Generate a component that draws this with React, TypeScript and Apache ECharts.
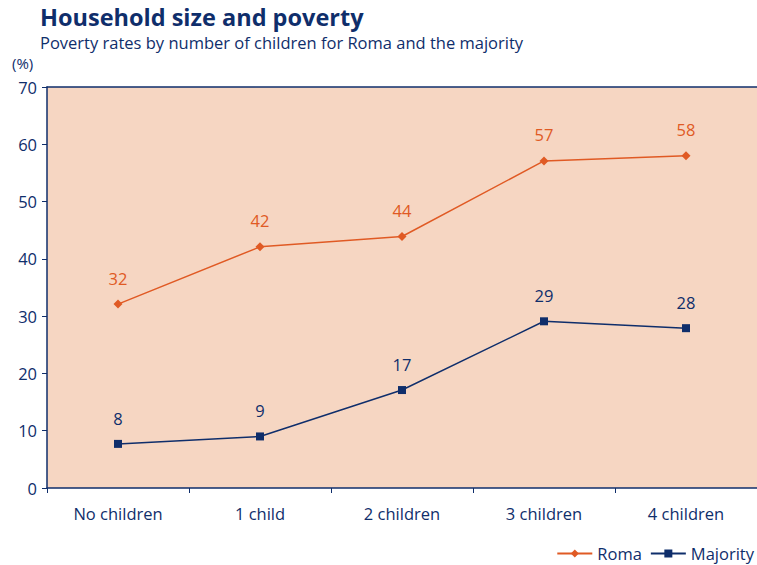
import React, { useEffect, useRef } from "react";
import * as echarts from "echarts";

const categories = ["No children", "1 child", "2 children", "3 children", "4 children"];
const romaValues = [32.1, 42.1, 43.9, 57.1, 58.0];
const majorityValues = [7.7, 9.0, 17.1, 29.1, 27.9];
const yTicks = { min: 0, max: 70, interval: 10 };

const NAVY = "#0F2E6B";
const ORANGE = "#E05A24";
const BG = "#F6D6C2";
const FONT = "'Open Sans', 'Noto Sans', sans-serif";

export default function App() {
  const ref = useRef<HTMLDivElement>(null);
  useEffect(() => {
    if (!ref.current) return;
    const chart = echarts.init(ref.current, null, { renderer: "svg" });
    chart.setOption({
      animation: false,
      textStyle: { fontFamily: FONT },
      graphic: [
        {
          type: "text",
          left: 40,
          top: 5,
          style: { text: "Household size and poverty", fill: NAVY, font: `bold 23.5px ${FONT}` },
        },
        {
          type: "text",
          left: 40,
          top: 34,
          style: { text: "Poverty rates by number of children for Roma and the majority", fill: NAVY, font: `16.5px ${FONT}` },
        },
        {
          type: "text",
          left: 12,
          top: 55,
          style: { text: "(%)", fill: NAVY, font: `15px ${FONT}` },
        },
      ],
      grid: {
        left: 47,
        right: 0,
        top: 87,
        bottom: 77,
        show: true,
        backgroundColor: BG,
        borderWidth: 0,
      },
      legend: {
        right: 3,
        bottom: 3,
        padding: 0,
        itemWidth: 35,
        itemHeight: 10,
        itemGap: 8,
        textStyle: { color: NAVY, fontSize: 16.5, fontFamily: FONT },
        data: ["Roma", "Majority"],
      },
      xAxis: [
        {
          type: "category",
          data: categories,
          boundaryGap: true,
          axisLine: { lineStyle: { color: NAVY, width: 1.5 } },
          axisTick: { show: true, length: 5, lineStyle: { color: NAVY } },
          axisLabel: { color: NAVY, fontSize: 16.5, margin: 17, fontFamily: FONT },
        },
        {
          type: "category",
          data: categories,
          position: "top",
          axisLine: { lineStyle: { color: NAVY, width: 1.5 } },
          axisTick: { show: false },
          axisLabel: { show: false },
        },
      ],
      yAxis: {
        type: "value",
        min: yTicks.min,
        max: yTicks.max,
        interval: yTicks.interval,
        axisLine: { show: true, lineStyle: { color: NAVY, width: 1.5 } },
        axisTick: { show: true, length: 5, lineStyle: { color: NAVY } },
        splitLine: { show: false },
        axisLabel: { color: NAVY, fontSize: 16.5, margin: 10, fontFamily: FONT },
      },
      series: [
        {
          name: "Roma",
          type: "line",
          data: romaValues,
          symbol: "diamond",
          symbolSize: 9,
          itemStyle: { color: ORANGE },
          lineStyle: { color: ORANGE, width: 1.5 },
          label: {
            show: true,
            position: "top",
            distance: 13,
            color: ORANGE,
            fontSize: 16.5,
            fontFamily: FONT,
            formatter: (p: any) => String(Math.round(p.value)),
          },
        },
        {
          name: "Majority",
          type: "line",
          data: majorityValues,
          symbol: "rect",
          symbolSize: 8,
          itemStyle: { color: NAVY },
          lineStyle: { color: NAVY, width: 1.5 },
          label: {
            show: true,
            position: "top",
            distance: 13,
            color: NAVY,
            fontSize: 16.5,
            fontFamily: FONT,
            formatter: (p: any) => String(Math.round(p.value)),
          },
        },
      ],
    });
    return () => chart.dispose();
  }, []);
  return <div ref={ref} style={{ width: 757, height: 565, position: "absolute", left: 0, top: 0 }} />;
}
